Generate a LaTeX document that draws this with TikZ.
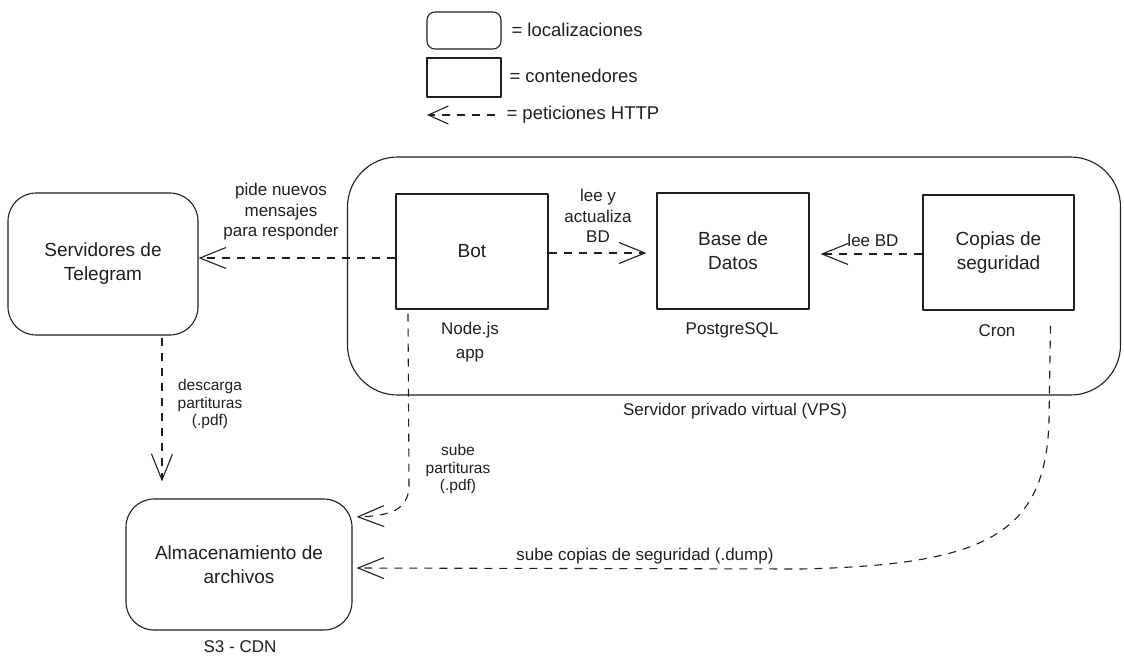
\documentclass[tikz,border=0pt]{standalone}
\usepackage{fontspec}
\setmainfont{Liberation Sans}
\usetikzlibrary{arrows.meta}
\begin{document}
\begin{tikzpicture}[x=1pt,y=-1pt,
  line width=1.1pt, line join=round, color={black!88},
  loc/.style={draw, rounded corners=28pt, inner sep=0pt, align=center, font=\fontsize{19}{24}\selectfont},
  cont/.style={draw, inner sep=0pt, align=center, font=\fontsize{19}{24}\selectfont},
  lbl/.style={align=center, inner sep=1pt, font=\fontsize{17}{20.5}\selectfont},
  small/.style={align=center, inner sep=1pt, font=\fontsize{15.5}{17.5}\selectfont},
  arr/.style={dashed, dash pattern=on 8pt off 7pt, -{Straight Barb[length=26pt,width=21pt,line width=1.1pt]}}
]
\useasboundingbox (0,0) rectangle (1124,656);

% legend
\node[loc, rounded corners=8pt, minimum width=74pt, minimum height=37pt] (lgloc) at (464,30.5) {};
\node[cont, minimum width=74pt, minimum height=39pt] (lgcont) at (464,77.5) {};
\coordinate (lga) at (495,115);
\coordinate (lgb) at (427,115);
\draw[arr, -{Straight Barb[length=20pt,width=18pt,line width=1.1pt]}] (lga) -- (lgb);
\node[lbl, anchor=west, font=\fontsize{18.5}{20}\selectfont] (t1) at (510,30) {= localizaciones};
\node[lbl, anchor=west, font=\fontsize{18.5}{20}\selectfont] (t2) at (508,76) {= contenedores};
\node[lbl, anchor=west, font=\fontsize{18.5}{20}\selectfont] (t3) at (505,115) {= peticiones HTTP};

% main nodes
\node[loc, minimum width=190pt, minimum height=142pt] (tg) at (103,264) {Servidores de\\Telegram};
\node[loc, rounded corners=50pt, minimum width=773pt, minimum height=238pt] (vps) at (734,276) {};
\node[cont, minimum width=152pt, minimum height=115pt] (bot) at (472,251.5) {Bot};
\node[cont, minimum width=152pt, minimum height=116pt] (bd) at (733,251) {Base de\\Datos};
\node[cont, minimum width=151pt, minimum height=115pt] (cp) at (998.5,252.5) {Copias de\\seguridad};
\node[loc, minimum width=226pt, minimum height=131pt] (alm) at (239,564.5) {Almacenamiento de\\archivos};

% captions
\node[lbl, font=\fontsize{17}{24}\selectfont] (cbot) at (470,342) {Node.js\\app};
\node[lbl] (cbd) at (732,330) {PostgreSQL};
\node[lbl] (ccp) at (997,331) {Cron};
\node[lbl] (cvps) at (735,411) {Servidor privado virtual (VPS)};
\node[lbl] (calm) at (240,647) {S3 - CDN};

% connectors
\draw[arr] (bot.west |- 0,258) -- (tg.east |- 0,258);
\node[lbl] (l1) at (281,212) {pide nuevos\\mensajes\\para responder};

\draw[arr, shorten >=10pt] (bot.east |- 0,253) -- (bd.west |- 0,253);
\node[lbl] (l2) at (598,216) {lee y\\actualiza\\BD};

\draw[arr, shorten >=11pt] (cp.west |- 0,254) -- (bd.east |- 0,254);
\node[lbl] (l3) at (873,240) {lee BD};

\draw[arr, shorten <=2pt, shorten >=17pt] (tg.south -| 162,0) -- (alm.north -| 162,0);
\node[small] (l4) at (210,404) {descarga\\partituras\\(.pdf)};

\draw[arr, shorten >=4pt] ([xshift=-64pt,yshift=-4pt]bot.south) -- (409,485) .. controls (409,510) and (390,516) .. (alm.east |- 0,517);
\node[small] (l5) at (458,469) {sube\\partituras\\(.pdf)};

\draw[arr, shorten >=4pt] ([xshift=52pt,yshift=-15pt]cp.south) -- (1049,420) .. controls (1046,535) and (985,565) .. (800,569) -- (alm.east |- 0,568);
\node[lbl] (l6) at (645,556) {sube copias de seguridad (.dump)};
\end{tikzpicture}
\end{document}
